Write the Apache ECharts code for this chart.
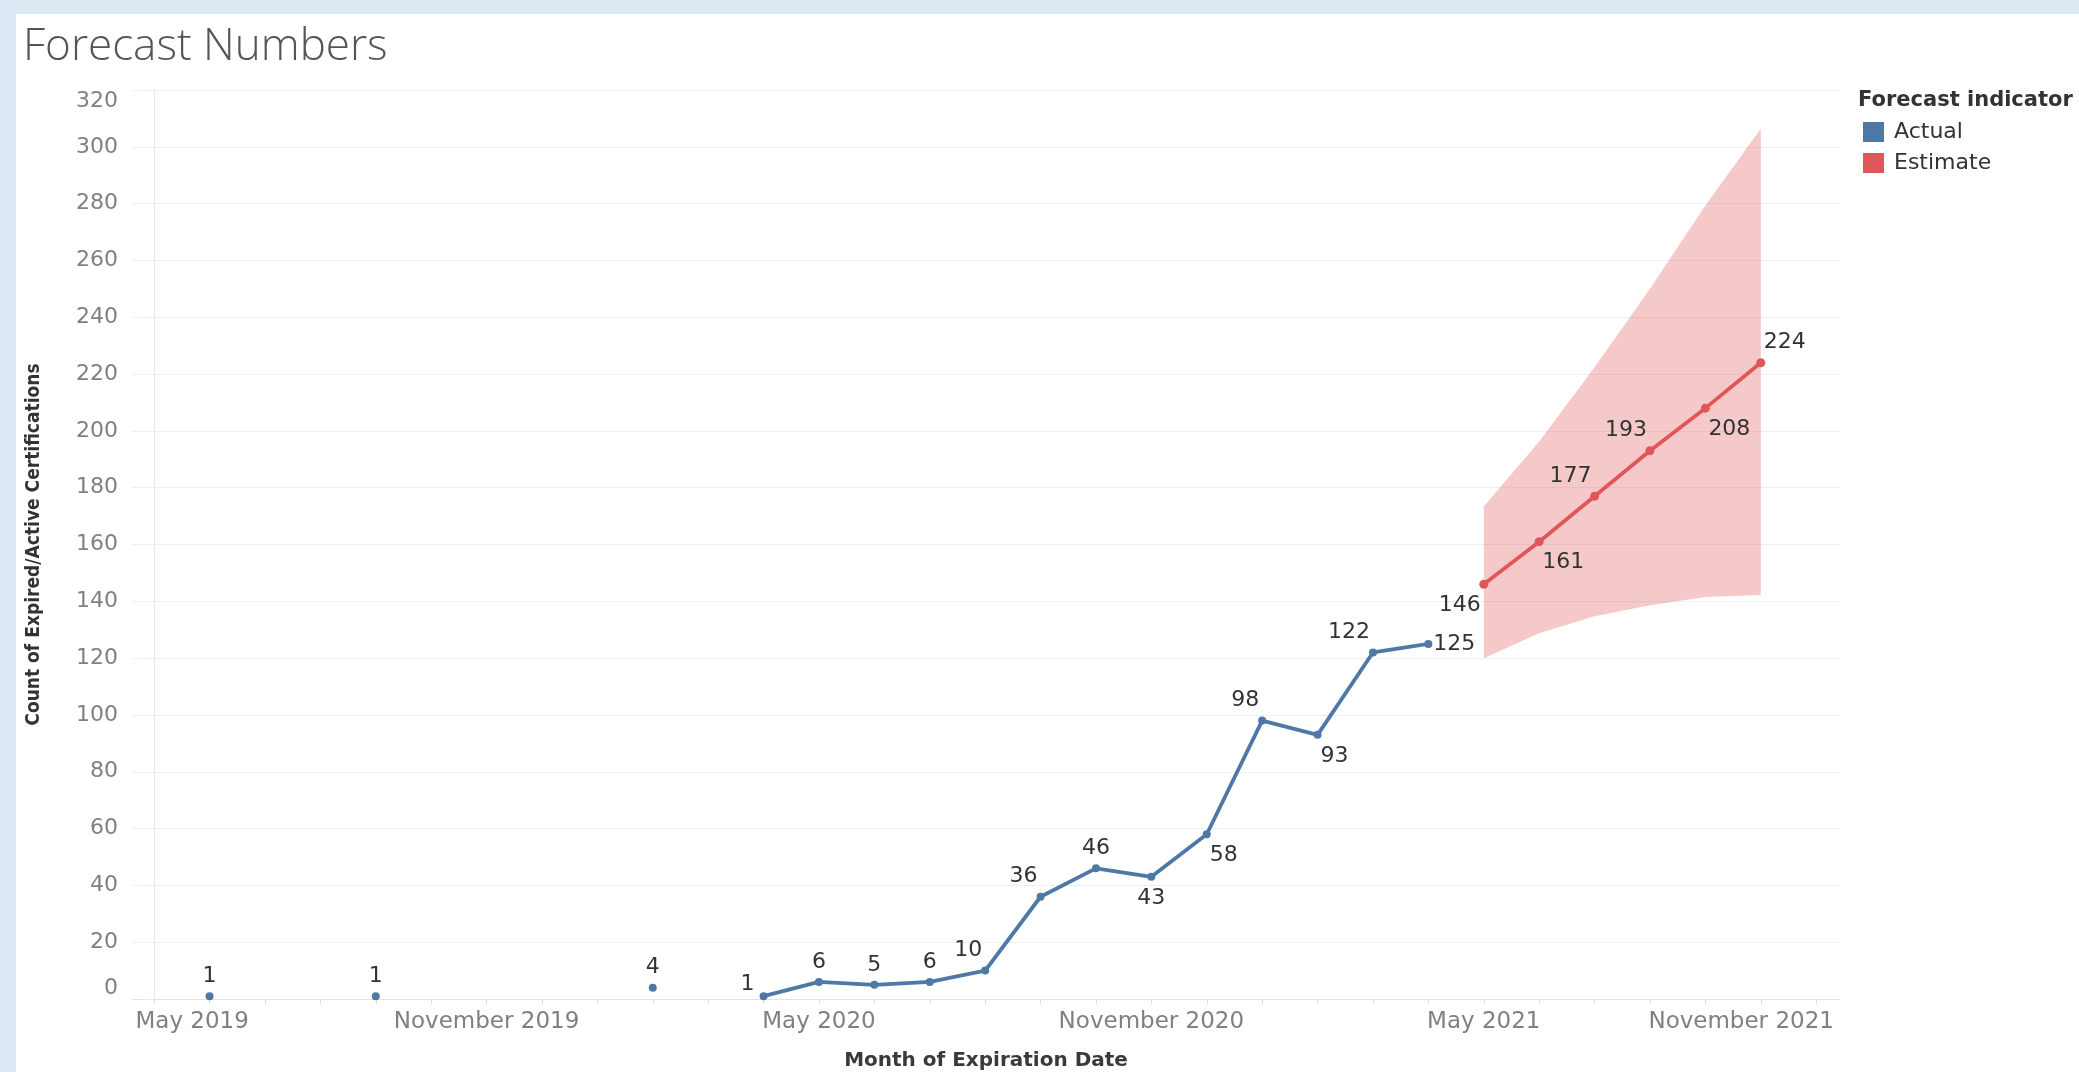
<!DOCTYPE html>
<html>
<head>
<meta charset="utf-8">
<title>Forecast Numbers</title>
<script src="https://cdn.jsdelivr.net/npm/echarts@6.0.0/dist/echarts.min.js"></script>
<style>
  html, body { margin: 0; padding: 0; background: #dce9f5; }
  #chart { position: absolute; left: 16px; top: 14px; width: 2063px; height: 1058px; background: #fff; }
</style>
</head>
<body>
<div id="chart"></div>
<script>
// months of the actual counts (gaps are months with no expirations)
const actualMonths = [
  '2019-06', '2019-07', '2019-08', '2019-09', '2019-10', '2019-11', '2019-12',
  '2020-01', '2020-02', '2020-03', '2020-04', '2020-05', '2020-06', '2020-07',
  '2020-08', '2020-09', '2020-10', '2020-11', '2020-12', '2021-01', '2021-02',
  '2021-03', '2021-04'
]
const actualValues = [
  1, null, null, 1, null, null, null,
  null, 4, null, 1, 6, 5, 6,
  10, 36, 46, 43, 58, 98, 93,
  122, 125
]
const actualLabelPlace = [
  'top', null, null, 'top', null, null, null,
  null, 'top', null, 'left', 'top', 'top', 'top',
  'tl', 'tl', 'top', 'bottom', 'br', 'tl', 'br',
  'tl', 'right'
]

// forecast
const estimateMonths = ['2021-05', '2021-06', '2021-07', '2021-08', '2021-09', '2021-10']
const estimateValues = [146, 161, 177, 193, 208, 224]
const estimateLower = [120, 128.8, 134.7, 138.6, 141.5, 142.2]
const estimateUpper = [173.4, 196.3, 222.4, 250, 279.3, 306.4]
const estimateLabelPlace = ['bl', 'br', 'tl', 'tl', 'br', 'tr']

// axis
const xLabelMonths = ['2019-05', '2019-11', '2020-05', '2020-11', '2021-05', '2021-11']
const xTickFirst = '2019-05'
const xTickLast = '2021-11'
const monthNames = [
  'January', 'February', 'March', 'April', 'May', 'June',
  'July', 'August', 'September', 'October', 'November', 'December'
]

const COLOR_ACTUAL = '#4e79a7'
const COLOR_ESTIMATE = '#e15759'
const LABEL_FONT = 'DejaVu Sans'

// x is counted in months from the first tick month
const BASE_YEAR = Number(xTickFirst.slice(0, 4))
const BASE_MONTH = Number(xTickFirst.slice(5, 7))

function monthIndex(m) {
  const [y, mo] = m.split('-').map(Number)
  return (y - BASE_YEAR) * 12 + (mo - BASE_MONTH)
}

function monthText(idx) {
  const total = BASE_MONTH - 1 + idx
  return monthNames[total % 12] + ' ' + (BASE_YEAR + Math.floor(total / 12))
}

// where each value label sits relative to its point
const labelPlace = {
  top: { align: 'center', offset: [0, -20] },
  bottom: { align: 'center', offset: [0, 21] },
  tl: { align: 'right', offset: [-3, -20] },
  tr: { align: 'left', offset: [3, -20] },
  bl: { align: 'right', offset: [-3, 21] },
  br: { align: 'left', offset: [3, 21] },
  left: { align: 'right', offset: [-9, -12] },
  right: { align: 'left', offset: [5, 0] }
}

function pointData(months, values, places) {
  return months.map((m, i) => {
    if (values[i] == null) {
      return [monthIndex(m), '-']
    }
    const p = labelPlace[places[i]]
    return {
      value: [monthIndex(m), values[i]],
      label: { align: p.align, offset: p.offset }
    }
  })
}

const tickValues = []
for (let i = 0; i <= monthIndex(xTickLast); i++) tickValues.push(i)
const labelValues = xLabelMonths.map(monthIndex)
const firstLabel = labelValues[0]
const lastLabel = labelValues[labelValues.length - 1]

const bandData = estimateMonths.map((m, i) => [monthIndex(m), estimateLower[i], estimateUpper[i]])

// forecast interval drawn as one polygon: upper edge left→right, lower edge back
function renderBand(params, api) {
  if (params.dataIndex !== 0) return null
  const top = bandData.map(d => api.coord([d[0], d[2]]))
  const bottom = bandData.map(d => api.coord([d[0], d[1]])).reverse()
  return {
    type: 'polygon',
    shape: { points: top.concat(bottom) },
    style: { fill: 'rgba(225, 87, 89, 0.32)' }
  }
}

const chart = echarts.init(document.getElementById('chart'))

const valueLabel = {
  show: true,
  position: 'inside',
  formatter: p => p.value[1],
  fontFamily: LABEL_FONT,
  fontSize: 22,
  color: '#333',
  textBorderWidth: 0
}

chart.setOption({
  animation: false,
  title: [
    {
      text: 'Forecast Numbers',
      left: 7,
      top: 11,
      padding: 0,
      textStyle: { fontFamily: 'Open Sans', fontWeight: 300, fontSize: 44, color: '#555' }
    },
    {
      text: 'Forecast indicator',
      left: 1842,
      top: 76,
      padding: 0,
      textStyle: { fontFamily: LABEL_FONT, fontWeight: 'bold', fontSize: 21, color: '#333' }
    }
  ],
  legend: {
    data: ['Actual', 'Estimate'],
    orient: 'vertical',
    left: 1847,
    top: 107,
    padding: 0,
    itemWidth: 21,
    itemHeight: 20,
    itemGap: 9,
    icon: 'rect',
    selectedMode: false,
    textStyle: { fontFamily: LABEL_FONT, fontSize: 22, color: '#333', padding: [0, 0, 0, 5] }
  },
  grid: {
    left: 116,
    right: 239,
    top: 76,
    bottom: 73,
    containLabel: false,
    outerBoundsMode: 'none'
  },
  xAxis: {
    type: 'value',
    min: -0.4,
    max: 30.43,
    axisLine: { show: true, lineStyle: { color: '#e2e2e2', width: 1 } },
    axisTick: {
      show: true,
      customValues: tickValues,
      length: 5,
      lineStyle: { color: '#dedede' }
    },
    axisLabel: {
      customValues: labelValues,
      margin: 12,
      fontFamily: LABEL_FONT,
      fontSize: 23,
      color: '#808080',
      formatter: value => {
        const text = monthText(value)
        if (value === firstLabel) return '{first|' + text + '}'
        if (value === lastLabel) return '{last|' + text + '}'
        return text
      },
      rich: {
        first: { padding: [0, 0, 0, 76], fontFamily: LABEL_FONT, fontSize: 23, color: '#808080' },
        last: { padding: [0, 150, 0, 0], fontFamily: LABEL_FONT, fontSize: 23, color: '#808080' }
      }
    },
    splitLine: { show: false },
    name: 'Month of Expiration Date',
    nameLocation: 'middle',
    nameGap: 52,
    nameMoveOverlap: false,
    nameTextStyle: { fontFamily: LABEL_FONT, fontWeight: 'bold', fontSize: 20, color: '#3a3a3a' }
  },
  yAxis: {
    type: 'value',
    min: 0,
    max: 320,
    interval: 20,
    axisLine: { show: true, lineStyle: { color: '#e8e8e8' } },
    axisTick: { show: true, length: 10, lineStyle: { color: '#eeeeee' } },
    axisLabel: {
      margin: 14,
      fontFamily: LABEL_FONT,
      fontSize: 22,
      color: '#808080',
      verticalAlignMinLabel: 'bottom',
      verticalAlignMaxLabel: 'top'
    },
    splitLine: { show: true, lineStyle: { color: '#efefef', width: 1 } },
    name: 'Count of Expired/Active Certifications',
    nameLocation: 'middle',
    nameGap: 88,
    nameRotate: 90,
    nameMoveOverlap: false,
    nameTextStyle: {
      fontFamily: "'DejaVu Sans Condensed', 'DejaVu Sans'",
      fontWeight: 'bold',
      fontSize: 19,
      color: '#333'
    }
  },
  series: [
    {
      name: 'Interval',
      type: 'custom',
      data: bandData,
      encode: { x: 0, y: [1, 2] },
      renderItem: renderBand,
      silent: true,
      clip: true,
      z: 1
    },
    {
      name: 'Actual',
      type: 'line',
      data: pointData(actualMonths, actualValues, actualLabelPlace),
      connectNulls: false,
      symbol: 'circle',
      symbolSize: 8,
      showSymbol: true,
      lineStyle: { color: COLOR_ACTUAL, width: 3.8 },
      itemStyle: { color: COLOR_ACTUAL },
      label: valueLabel,
      z: 3
    },
    {
      name: 'Estimate',
      type: 'line',
      data: pointData(estimateMonths, estimateValues, estimateLabelPlace),
      symbol: 'circle',
      symbolSize: 9,
      showSymbol: true,
      lineStyle: { color: COLOR_ESTIMATE, width: 3.8 },
      itemStyle: { color: COLOR_ESTIMATE },
      label: valueLabel,
      z: 3
    }
  ]
})
</script>
</body>
</html>
